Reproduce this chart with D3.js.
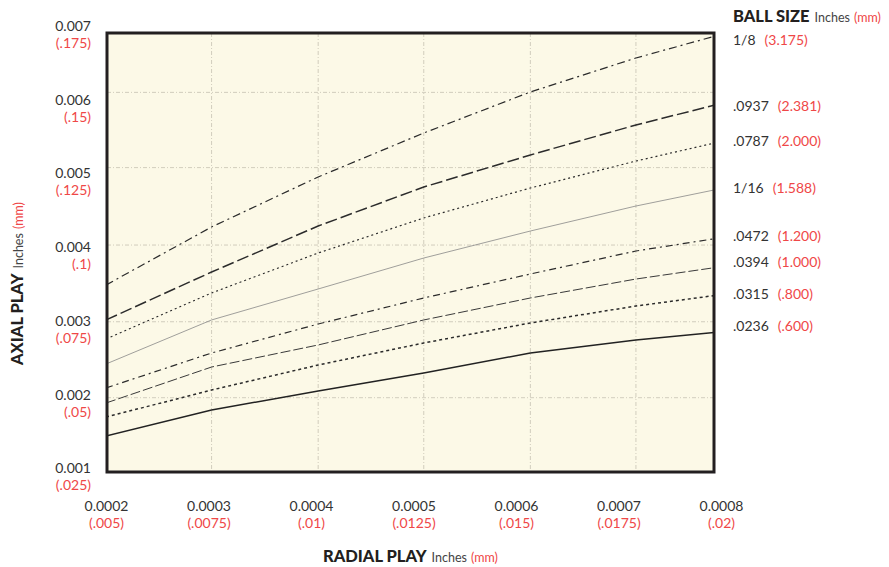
<!DOCTYPE html>
<html>
<head>
<meta charset="utf-8">
<script src="https://cdn.jsdelivr.net/npm/d3@7"></script>
<style>
  body { margin: 0; background: #fff; }
  text { font-family: Lato, "Noto Sans", sans-serif; }
</style>
</head>
<body>
<svg id="chart"></svg>
<script>
var width = 889,
    height = 567;

// radial play (inches) where the curves bend
var radial = [0.0002, 0.000303, 0.000407, 0.00051, 0.000614, 0.000717, 0.000798];

// axial play (inches) for each ball size
var ball_1_8  = [0.003488, 0.004275, 0.004953, 0.005549, 0.006105, 0.006566, 0.006878];
var ball_0937 = [0.003014, 0.003664, 0.004288, 0.004817, 0.005251, 0.005658, 0.005942];
var ball_0787 = [0.002756, 0.003380, 0.003922, 0.004397, 0.004803, 0.005169, 0.005427];
var ball_1_16 = [0.002417, 0.003014, 0.003434, 0.003854, 0.004220, 0.004559, 0.004790];
var ball_0472 = [0.002092, 0.002566, 0.002959, 0.003312, 0.003637, 0.003949, 0.004125];
var ball_0394 = [0.001888, 0.002376, 0.002675, 0.003014, 0.003312, 0.003569, 0.003732];
var ball_0315 = [0.001698, 0.002064, 0.002403, 0.002702, 0.002973, 0.003203, 0.003353];
var ball_0236 = [0.001441, 0.001793, 0.002051, 0.002295, 0.002566, 0.002742, 0.002851];

var ballInch = ["1/8", ".0937", ".0787", "1/16", ".0472", ".0394", ".0315", ".0236"];
var ballMM   = ["(3.175)", "(2.381)", "(2.000)", "(1.588)", "(1.200)", "(1.000)", "(.800)", "(.600)"];

var xTicks = [0.0002, 0.0003, 0.0004, 0.0005, 0.0006, 0.0007, 0.0008];
var xTickMM = ["(.005)", "(.0075)", "(.01)", "(.0125)", "(.015)", "(.0175)", "(.02)"];
var yTicks = [0.001, 0.002, 0.003, 0.004, 0.005, 0.006, 0.007];
var yTickMM = ["(.025)", "(.05)", "(.075)", "(.1)", "(.125)", "(.15)", "(.175)"];

// the printed grid does not sit on the tick values
var gridX = [0.000303, 0.000407, 0.00051, 0.000614, 0.000717];
var gridY = [0.00196, 0.00299, 0.00403, 0.00508, 0.0061];

var series = [ball_1_8, ball_0937, ball_0787, ball_1_16, ball_0472, ball_0394, ball_0315, ball_0236];
var styles = [
    {dash: "8,4,2,4", w: 1.2, c: "#2b2b2b"},
    {dash: "12,4",    w: 1.5, c: "#2b2b2b"},
    {dash: "2,3",     w: 1.2, c: "#2b2b2b"},
    {dash: null,      w: 0.8, c: "#888"},
    {dash: "7,4,2,4", w: 1.2, c: "#2b2b2b"},
    {dash: "10,3",    w: 1.0, c: "#3a3a3a"},
    {dash: "3,3",     w: 1.5, c: "#2b2b2b"},
    {dash: null,      w: 1.5, c: "#222"}
];
// vertical nudge of the ball size labels so they do not crowd
var labelNudge = [10, 7, 4, 4, 3, 0, 4, -1];
var red = "#ef4747";
var plot = {left: 107, right: 714, top: 33, bottom: 472};

var x = d3.scaleLinear().domain([0.0002, 0.0008]).range([106, 721]);
var y = d3.scaleLinear().domain([0.001, 0.007]).range([468.5, 26]);

var svg = d3.select("#chart").attr("width", width).attr("height", height);

svg.append("defs").append("clipPath").attr("id", "clip")
    .append("rect")
    .attr("x", plot.left).attr("y", plot.top)
    .attr("width", plot.right - plot.left).attr("height", plot.bottom - plot.top);

// plot background
svg.append("rect")
    .attr("x", plot.left).attr("y", plot.top)
    .attr("width", plot.right - plot.left).attr("height", plot.bottom - plot.top)
    .attr("fill", "#fcf9e7");

// grid
var grid = svg.append("g").attr("clip-path", "url(#clip)")
    .style("stroke", "#c6c2b2").style("stroke-width", 0.8)
    .style("stroke-dasharray", "4,2,1,2");
grid.selectAll(".gx").data(gridX).enter().append("line")
    .attr("x1", function(d) { return x(d); }).attr("x2", function(d) { return x(d); })
    .attr("y1", plot.top).attr("y2", plot.bottom);
grid.selectAll(".gy").data(gridY).enter().append("line")
    .attr("x1", plot.left).attr("x2", plot.right)
    .attr("y1", function(d) { return y(d); }).attr("y2", function(d) { return y(d); });

// curves
var line = d3.line()
    .x(function(d, i) { return x(radial[i]); })
    .y(function(d) { return y(d); });

svg.append("g").attr("clip-path", "url(#clip)")
    .selectAll("path").data(series).enter()
    .append("path")
        .attr("d", line)
        .style("fill", "none")
        .style("stroke", function(d, i) { return styles[i].c; })
        .style("stroke-width", function(d, i) { return styles[i].w; })
        .style("stroke-dasharray", function(d, i) { return styles[i].dash; });

// frame
svg.append("rect")
    .attr("x", plot.left).attr("y", plot.top)
    .attr("width", plot.right - plot.left).attr("height", plot.bottom - plot.top)
    .attr("fill", "none").attr("stroke", "#231f20").attr("stroke-width", 3);

// y axis
var yAxis = svg.append("g").attr("transform", "translate(91,0)")
    .call(d3.axisLeft(y).tickValues(yTicks).tickSize(0).tickPadding(0).tickFormat(d3.format(".3f")));
yAxis.select(".domain").remove();
yAxis.selectAll("text").attr("font-size", 14).attr("fill", "#333").attr("font-family", null);
yAxis.selectAll(".tick").append("text")
    .attr("x", 0).attr("y", 17).attr("dy", "0.32em")
    .attr("fill", red).attr("font-size", 14)
    .text(function(d, i) { return yTickMM[i]; });

// x axis
var xAxis = svg.append("g").attr("transform", "translate(0,501)")
    .call(d3.axisBottom(x).tickValues(xTicks).tickSize(0).tickPadding(0).tickFormat(d3.format(".4f")));
xAxis.select(".domain").remove();
xAxis.selectAll("text").attr("font-size", 14).attr("fill", "#333").attr("font-family", null);
xAxis.selectAll(".tick").append("text")
    .attr("y", 17).attr("dy", "0.71em")
    .attr("fill", red).attr("font-size", 14)
    .text(function(d, i) { return xTickMM[i]; });

// ball size labels next to the curve ends
var lab = svg.selectAll(".ball").data(series).enter()
    .append("text")
        .attr("x", 733)
        .attr("y", function(d, i) { return y(d[d.length - 1]) + labelNudge[i]; })
        .attr("font-size", 14).attr("fill", "#333");
lab.append("tspan").text(function(d, i) { return ballInch[i]; });
lab.append("tspan").attr("dx", 9).attr("fill", red).text(function(d, i) { return ballMM[i]; });

// titles
function title(g, bold) {
    g.append("tspan").attr("font-weight", 900).attr("font-size", 16.5).attr("fill", "#231f20").text(bold);
    g.append("tspan").attr("dx", 5).attr("font-size", 12.5).attr("fill", "#444").text("Inches");
    g.append("tspan").attr("dx", 4).attr("font-size", 12.5).attr("fill", red).text("(mm)");
}
title(svg.append("text").attr("x", 733).attr("y", 22), "BALL SIZE");
title(svg.append("text").attr("x", 323).attr("y", 562), "RADIAL PLAY");
title(svg.append("text").attr("transform", "translate(23,365) rotate(-90)"), "AXIAL PLAY");
</script>
</body>
</html>
